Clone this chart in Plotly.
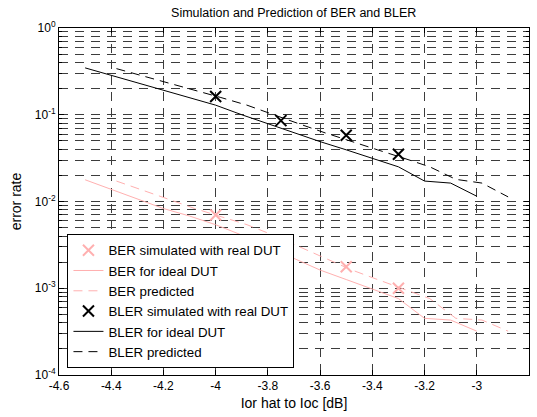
import plotly.graph_objects as go

# ---- data ----
x_ideal = [-4.5, -4.4, -4.3, -4.2, -4.1, -4.0, -3.9, -3.8, -3.7, -3.6, -3.5, -3.4, -3.3, -3.2, -3.1, -3.0]
x_pred = [-4.38, -4.28, -4.18, -4.08, -3.98, -3.88, -3.78, -3.68, -3.58, -3.48, -3.38, -3.28, -3.18, -3.08, -2.98, -2.88]
x_sim = [-4.0, -3.75, -3.5, -3.3]

ber_sim = [0.0070, 0.0031, 0.00177, 0.0010]
ber_ideal = [0.0178, 0.0138, 0.0107, 0.0083, 0.0068, 0.0054, 0.0041, 0.0030,
             0.0022, 0.00162, 0.00126, 0.00098, 0.00076, 0.00045, 0.00043, 0.00032]
ber_pred = [0.0172, 0.0136, 0.0106, 0.0083, 0.0067, 0.0054, 0.0041, 0.0030,
            0.0022, 0.00163, 0.00126, 0.00098, 0.00076, 0.00045, 0.00043, 0.00032]

bler_sim = [0.162, 0.0855, 0.058, 0.035]
bler_ideal = [0.347, 0.285, 0.234, 0.193, 0.158, 0.129, 0.100, 0.0785,
              0.0617, 0.049, 0.0394, 0.0316, 0.0251, 0.0172, 0.0163, 0.0115]
bler_pred = [0.340, 0.282, 0.232, 0.192, 0.158, 0.129, 0.100, 0.0785,
             0.0617, 0.049, 0.0394, 0.0316, 0.0251, 0.0180, 0.0163, 0.0113]

series_names = ["BER simulated with real DUT", "BER for ideal DUT", "BER predicted",
                "BLER simulated with real DUT", "BLER for ideal DUT", "BLER predicted"]

x_ticks = [-4.6, -4.4, -4.2, -4.0, -3.8, -3.6, -3.4, -3.2, -3.0, -2.8]
x_ticktext = ["-4.6", "-4.4", "-4.2", "-4", "-3.8", "-3.6", "-3.4", "-3.2", "-3", "-2.8"]
y_ticks = [1e-4, 1e-3, 1e-2, 1e-1, 1]
y_ticktext = ["10<sup>-4</sup>", "10<sup>-3</sup>", "10<sup>-2</sup>", "10<sup>-1</sup>", "10<sup>0</sup>"]
y_minor = [m * 10.0 ** e for e in range(-4, 0) for m in range(2, 10)]

PINK = "#ffb0b0"
FONT = "Liberation Sans, Arial, sans-serif"
GRID = "#3c3c3c"
DASH = "9px,7px"

fig = go.Figure()
fig.add_trace(go.Scatter(x=x_sim, y=ber_sim, mode="markers", name=series_names[0],
                         marker=dict(symbol="x-thin-open", size=11, color=PINK,
                                     line=dict(color=PINK, width=2))))
fig.add_trace(go.Scatter(x=x_ideal, y=ber_ideal, mode="lines", name=series_names[1],
                         line=dict(color=PINK, width=1)))
fig.add_trace(go.Scatter(x=x_pred, y=ber_pred, mode="lines", name=series_names[2],
                         line=dict(color=PINK, width=1, dash="9px,6px")))
fig.add_trace(go.Scatter(x=x_sim, y=bler_sim, mode="markers", name=series_names[3],
                         marker=dict(symbol="x-thin-open", size=11, color="black",
                                     line=dict(color="black", width=2))))
fig.add_trace(go.Scatter(x=x_ideal, y=bler_ideal, mode="lines", name=series_names[4],
                         line=dict(color="black", width=1)))
fig.add_trace(go.Scatter(x=x_pred, y=bler_pred, mode="lines", name=series_names[5],
                         line=dict(color="black", width=1, dash="9px,6px")))

fig.update_layout(
    template="none",
    width=537, height=417,
    margin=dict(l=59, r=8, t=28, b=42, autoexpand=False),
    paper_bgcolor="white", plot_bgcolor="white",
    font=dict(family=FONT, size=12, color="black"),
    title=dict(text="Simulation and Prediction of BER and BLER", x=0.547, xanchor="center",
               y=0.98, yanchor="top", font=dict(size=12.5)),
    showlegend=True,
    legend=dict(x=0.018, y=0.02, xanchor="left", yanchor="bottom",
                bgcolor="white", bordercolor="black", borderwidth=1,
                font=dict(size=13.3), tracegroupgap=0, itemwidth=30),
)
fig.update_xaxes(
    range=[-4.6, -2.8], tickmode="array", tickvals=x_ticks, ticktext=x_ticktext,
    ticks="inside", ticklen=5, tickcolor="black", showline=True, linecolor="black",
    linewidth=1, mirror="ticks", showgrid=True, gridcolor=GRID, griddash=DASH, gridwidth=1,
    zeroline=False, automargin=False, title=dict(text="Ior hat to Ioc [dB]", standoff=5),
)
fig.update_yaxes(
    type="log", range=[-4, 0], tickmode="array", tickvals=y_ticks, ticktext=y_ticktext,
    ticks="inside", ticklen=5, tickcolor="black", showline=True, linecolor="black",
    linewidth=1, mirror="ticks", showgrid=True, gridcolor=GRID, griddash=DASH, gridwidth=1,
    zeroline=False, automargin=False, title=dict(text="error rate"),
    minor=dict(tickmode="array", tickvals=y_minor, ticks="inside", ticklen=3,
               tickcolor="black", showgrid=True, gridcolor=GRID, griddash=DASH, gridwidth=1),
)

fig.write_html("out.html", config={"displayModeBar": False},
               post_script="document.body.style.margin='0px';document.body.style.overflow='hidden';")
